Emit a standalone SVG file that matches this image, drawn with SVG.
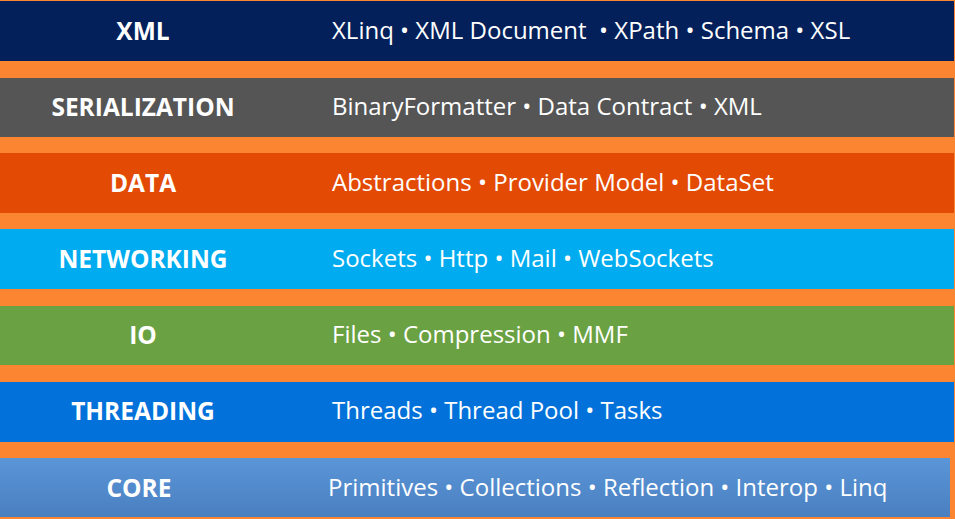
<svg xmlns="http://www.w3.org/2000/svg" width="955" height="519" viewBox="0 0 955 519">
  <defs>
    <linearGradient id="coreFill" x1="0" y1="0" x2="0" y2="1">
      <stop offset="0" stop-color="#5a96d8"/>
      <stop offset="1" stop-color="#4a7fc0"/>
    </linearGradient>
  </defs>
  <style>
    .label { font-family: "Open Sans", "Noto Sans", sans-serif; font-weight: 700; font-size: 24.5px; fill: #ffffff; text-anchor: middle; }
    .desc { font-family: "Open Sans", "Noto Sans", sans-serif; font-size: 24px; fill: #ffffff; white-space: pre; }
  </style>
  <rect width="955" height="519" fill="#fb8530"/>

  <g id="xml">
    <rect x="0" y="1" width="954" height="60" fill="#03205a"/>
    <text class="label" x="143" y="40">XML</text>
    <text class="desc" x="332" y="39" xml:space="preserve">XLinq • XML Document  • XPath • Schema • XSL</text>
  </g>
  <g id="serialization">
    <rect x="0" y="78" width="954" height="59" fill="#555555"/>
    <text class="label" x="143" y="116">SERIALIZATION</text>
    <text class="desc" x="332" y="115">BinaryFormatter • Data Contract • XML</text>
  </g>
  <g id="data">
    <rect x="0" y="153" width="954" height="60" fill="#e34a04"/>
    <text class="label" x="143" y="192">DATA</text>
    <text class="desc" x="332" y="191">Abstractions • Provider Model • DataSet</text>
  </g>
  <g id="networking">
    <rect x="0" y="229" width="954" height="60" fill="#00acef"/>
    <text class="label" x="143" y="268">NETWORKING</text>
    <text class="desc" x="332" y="267">Sockets • Http • Mail • WebSockets</text>
  </g>
  <g id="io">
    <rect x="0" y="306" width="954" height="59" fill="#6aa142"/>
    <text class="label" x="143" y="344">IO</text>
    <text class="desc" x="332" y="343">Files • Compression • MMF</text>
  </g>
  <g id="threading">
    <rect x="0" y="382" width="954" height="60" fill="#0272da"/>
    <text class="label" x="143" y="420">THREADING</text>
    <text class="desc" x="332" y="419">Threads • Thread Pool • Tasks</text>
  </g>
  <g id="core">
    <rect x="0" y="458" width="950" height="59" fill="url(#coreFill)"/>
    <text class="label" x="139" y="497" fill="#e8eef6">CORE</text>
    <text class="desc" x="328" y="496">Primitives • Collections • Reflection • Interop • Linq</text>
  </g>
</svg>
